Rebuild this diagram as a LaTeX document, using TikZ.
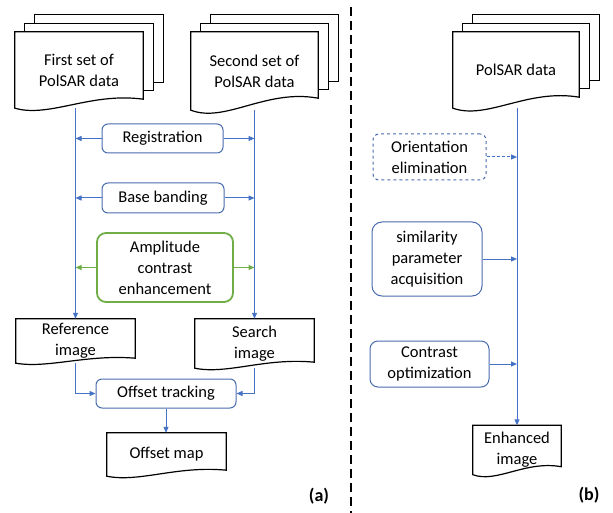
\documentclass[tikz,border=0pt]{standalone}
\usepackage{fontspec}
\setmainfont{Carlito}
\usetikzlibrary{calc,arrows.meta,backgrounds}

\definecolor{flowblue}{RGB}{68,114,196}
\definecolor{boxblue}{RGB}{72,108,175}
\definecolor{ampgreen}{RGB}{112,173,71}

% outline of a document sheet with a wavy bottom (node name, wave depth)
\newcommand\docpath[2]{%
  (#1.south west) -- (#1.north west) -- (#1.north east) -- ($(#1.south east)+(0,-#2)$)
  .. controls ($(#1.south west)!0.59!(#1.south east)+(0,-1.8*#2)$)
  and ($(#1.south west)!0.27!(#1.south east)+(0,1.1*#2)$) .. (#1.south west) -- cycle}

\begin{document}
\begin{tikzpicture}[x=1pt,y=-1pt,
  font=\fontsize{16.5}{21}\selectfont,
  docline/.style={line width=1.2pt, draw=black, fill=white},
  doc/.style={inner sep=0pt, align=center},
  procbox/.style={draw=boxblue, rounded corners=6pt, line width=1pt, inner sep=0pt, align=center},
  link/.style={flowblue, line width=1pt, -{Triangle[length=6pt,width=5pt]}},
  tag/.style={font=\bfseries\fontsize{18}{20}\selectfont}
]

  \useasboundingbox (0,0) rectangle (613,513);

  % (a) documents
  \node[doc, minimum width=128pt, minimum height=76pt] (set1) at (79,70) {First set of\\PolSAR data};
  \node[doc, minimum width=127pt, minimum height=78pt] (set2) at (254.5,71) {Second set of\\PolSAR data};
  \node[doc, minimum width=119pt, minimum height=44pt] (refimg) at (75.5,341) {Reference\\image};
  \node[doc, minimum width=119pt, minimum height=49pt] (srchimg) at (254.5,343.5) {Search\\image};
  \node[doc, minimum width=119pt, minimum height=43pt] (offmap) at (166.5,454.5) {Offset map};

  % (a) processing steps
  \node[procbox, minimum width=121pt, minimum height=29pt] (reg) at (162.5,138.5) {Registration};
  \node[procbox, minimum width=122pt, minimum height=30pt] (base) at (163,198) {Base banding};
  \node[procbox, draw=ampgreen, line width=1.8pt, rounded corners=9pt,
        minimum width=136pt, minimum height=69pt] (amp) at (165,267.5) {Amplitude\\contrast\\enhancement};
  \node[procbox, minimum width=140pt, minimum height=29pt] (track) at (166,393.5) {Offset tracking};

  % (b) documents and steps
  \node[doc, minimum width=126pt, minimum height=76pt] (polsar) at (516,70) {PolSAR data};
  \node[doc, minimum width=88pt, minimum height=49pt] (enhimg) at (517,450) {Enhanced\\image};
  \node[procbox, dashed, minimum width=113pt, minimum height=46pt] (orient) at (429.5,157) {Orientation\\elimination};
  \node[procbox, rounded corners=10pt, minimum width=110pt, minimum height=74pt] (simil) at (427,259) {similarity\\parameter\\acquisition};
  \node[procbox, rounded corners=8pt, minimum width=119pt, minimum height=46pt] (contr) at (429.5,364) {Contrast\\optimization};

  % sheets behind the text
  \begin{scope}[on background layer]
    \foreach \name/\wave in {set1/9, set2/12, polsar/11}
      \foreach \k in {2,1}
        \draw[docline] ($(\name.north west)+(10*\k,-8.5*\k)$)
          rectangle ($(\name.south east)+(10*\k,-\wave-8.5*\k)$);
    \foreach \name/\wave in {set1/9, set2/12, polsar/11, refimg/5, srchimg/6, offmap/6, enhimg/8}
      \draw[docline] \docpath{\name}{\wave};
  \end{scope}

  % (a) connectors
  \draw[link] (set1.south -| refimg.north) -- (refimg.north);
  \draw[link] (set2.south -| srchimg.north) -- (srchimg.north);
  \foreach \stage in {reg, base} {
    \draw[link] (\stage.west) -- (\stage.west -| refimg.north);
    \draw[link] (\stage.east) -- (\stage.east -| srchimg.north);
  }
  \draw[link, ampgreen] (amp.west) -- (amp.west -| refimg.north);
  \draw[link, ampgreen] (amp.east) -- (amp.east -| srchimg.north);
  \draw[link] (refimg.south) |- (track.west);
  \draw[link] (srchimg.south) |- (track.east);
  \draw[link] (track.south) -- (track.south |- offmap.north);

  % (b) connectors
  \draw[link] (polsar.south -| enhimg.north) -- (enhimg.north);
  \draw[link, dash pattern=on 3pt off 2pt] (orient.east) -- (orient.east -| enhimg.north);
  \draw[link] (simil.east) -- (simil.east -| enhimg.north);
  \draw[link] (contr.east) -- (contr.east -| enhimg.north);

  % divider and panel tags
  \draw[line width=2pt, dash pattern=on 9pt off 5pt] (351,7) -- (351,513);
  \node[tag] (taga) at (319,496) {(a)};
  \node[tag] (tagb) at (589,495) {(b)};

\end{tikzpicture}
\end{document}
